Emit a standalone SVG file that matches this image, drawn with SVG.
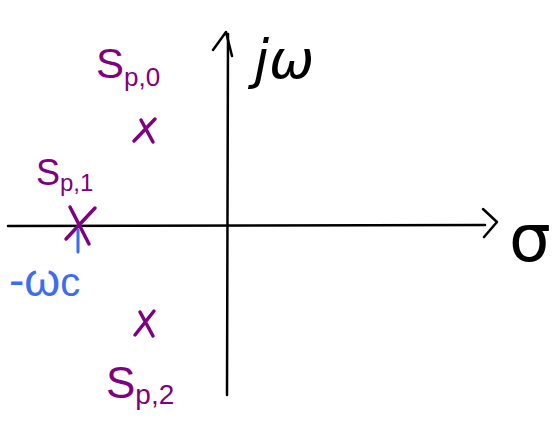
<svg xmlns="http://www.w3.org/2000/svg" width="552" height="426" viewBox="0 0 552 426">
<style>
.ax{stroke:#000;stroke-width:2.5;fill:none;stroke-linecap:round;stroke-linejoin:round}
.pole{stroke:#800080;stroke-width:3.5;fill:none;stroke-linecap:round}
.pl{fill:#800080;font-family:"Liberation Sans","DejaVu Sans",sans-serif}
.bl{fill:#3a6cf4;font-family:"Liberation Sans","DejaVu Sans",sans-serif}
.bk{fill:#000;font-family:"DejaVu Sans","Liberation Sans",sans-serif}
</style>
<rect width="552" height="426" fill="#fff"/>
<g id="connectors">
<path class="ax" d="M8,226 L485,225"/>
<path class="ax" d="M483,209 L497,222 L484,237"/>
<path class="ax" d="M227,395 L228,34"/>
<path class="ax" d="M213,50 L226,32 L232,56"/>
</g>
<g id="axis-labels">
<text class="bk" x="254" y="78" font-size="54" font-style="italic">jω</text>
<text class="bk" x="509" y="261" font-size="66">σ</text>
</g>
<g id="pole0">
<path class="pole" d="M134,141 L155,119 M141,120 L153,142"/>
<text class="pl" x="96" y="78" font-size="42">S<tspan font-size="26" dy="8">p,0</tspan></text>
</g>
<g id="pole1">
<path class="pole" d="M66,239 L95,208 M70,207 L89,244"/>
<path d="M78,230 L78,252" stroke="#3a6cf4" stroke-width="3" stroke-linecap="round"/>
<text class="pl" x="36" y="185" font-size="36">S<tspan font-size="24" dy="6">p,1</tspan></text>
<text class="bl" x="9" y="296" font-size="46">-ω<tspan font-size="40">c</tspan></text>
</g>
<g id="pole2">
<path class="pole" d="M135,335 L154,311 M140,312 L153,336"/>
<text class="pl" x="106" y="398" font-size="44">S<tspan font-size="28" dy="6">p,2</tspan></text>
</g>
</svg>
